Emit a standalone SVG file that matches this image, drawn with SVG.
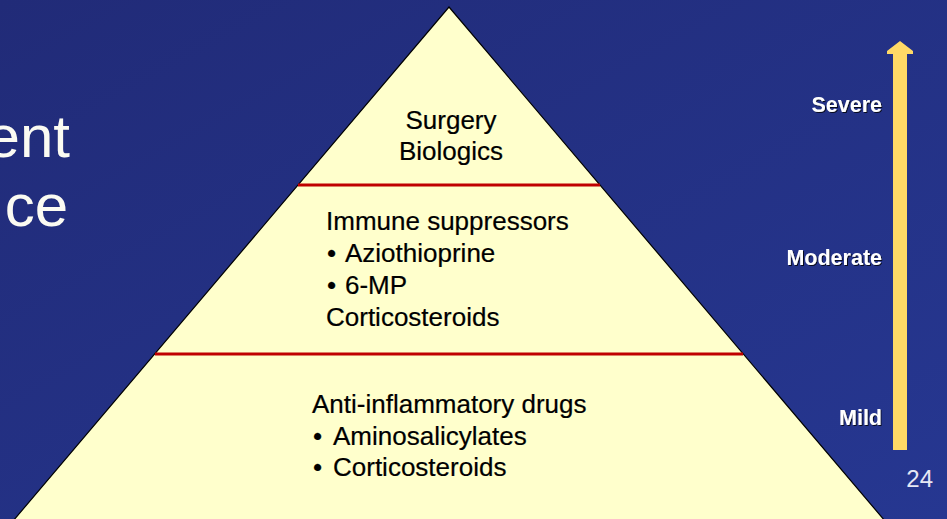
<svg xmlns="http://www.w3.org/2000/svg" width="947" height="519" viewBox="0 0 947 519">
  <defs>
    <linearGradient id="bg" x1="0" y1="0" x2="1" y2="1">
      <stop offset="0" stop-color="#212b78"/>
      <stop offset="1" stop-color="#263791"/>
    </linearGradient>
    <filter id="shadow" x="-10%" y="-20%" width="130%" height="150%">
      <feDropShadow dx="1" dy="1" stdDeviation="0.4" flood-color="#000" flood-opacity="0.8"/>
    </filter>
  </defs>
  <style>
    .title { font-family: "Liberation Sans", Arial, sans-serif; font-size: 60px; fill: #fbfbf2; }
    .tier { font-family: "Liberation Sans", Arial, sans-serif; font-size: 26px; fill: #000; stroke: #000; stroke-width: 0.2; }
    .level { font-family: "Liberation Sans", Arial, sans-serif; font-size: 21.5px; font-weight: bold; fill: #fff; text-anchor: end; filter: url(#shadow); }
    .divider { stroke: #c00000; stroke-width: 3; fill: none; }
    .page { font-family: "Liberation Sans", Arial, sans-serif; font-size: 24px; fill: #e6e8f4; text-anchor: end; }
  </style>
  <rect x="0" y="0" width="947" height="519" fill="url(#bg)"/>

  <g id="title">
    <text class="title" x="70" y="157" text-anchor="end">ent</text>
    <text class="title" x="68" y="226" text-anchor="end">ce</text>
  </g>

  <g id="pyramid">
    <polygon points="449,7 885,521 13,521" fill="#ffffcc" stroke="#000" stroke-width="1.2"/>
  </g>

  <g id="connectors">
    <line class="divider" x1="298" y1="185" x2="600" y2="185"/>
    <line class="divider" x1="155" y1="354" x2="743" y2="354"/>
  </g>

  <g id="tier-top">
    <text class="tier" x="451" y="129" text-anchor="middle">Surgery</text>
    <text class="tier" x="451" y="160" text-anchor="middle">Biologics</text>
  </g>

  <g id="tier-middle">
    <text class="tier" x="326" y="230">Immune suppressors</text>
    <text class="tier" y="262"><tspan x="327">•</tspan><tspan x="345">Aziothioprine</tspan></text>
    <text class="tier" y="294"><tspan x="327">•</tspan><tspan x="345">6-MP</tspan></text>
    <text class="tier" x="326" y="326">Corticosteroids</text>
  </g>

  <g id="tier-bottom">
    <text class="tier" x="312" y="413">Anti-inflammatory drugs</text>
    <text class="tier" y="445"><tspan x="313">•</tspan><tspan x="333">Aminosalicylates</tspan></text>
    <text class="tier" y="476"><tspan x="313">•</tspan><tspan x="333">Corticosteroids</tspan></text>
  </g>

  <g id="severity-arrow">
    <polygon points="893,450 893,54 887,54 887,51 900,41 913,51 913,54 907,54 907,450" fill="#ffd966"/>
  </g>

  <g id="severity-labels">
    <text class="level" x="882" y="112">Severe</text>
    <text class="level" x="882" y="265">Moderate</text>
    <text class="level" x="882" y="425">Mild</text>
  </g>

  <g id="page-number">
    <text class="page" x="933" y="487">24</text>
  </g>
</svg>
